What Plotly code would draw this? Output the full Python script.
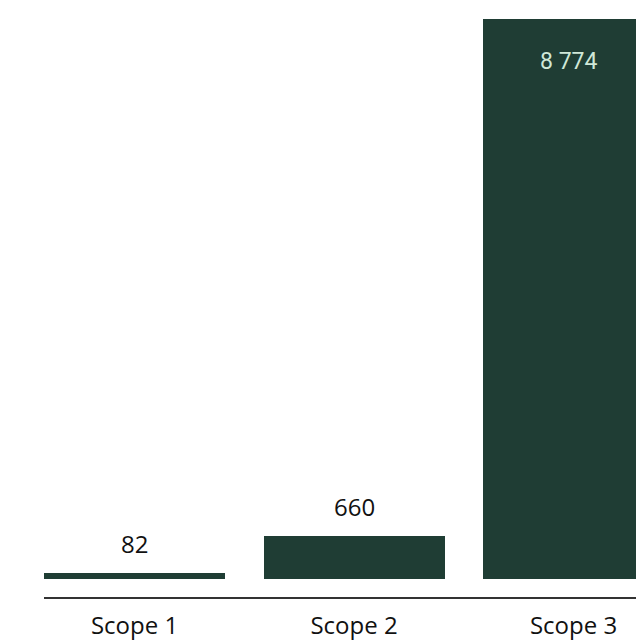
import plotly.graph_objects as go

categories = ["Scope 1", "Scope 2", "Scope 3"]
values = [82, 660, 8774]
label_inside = [False, False, True]

BAR = "#1f3d34"

def fmt(v):
    return f"{v:,}".replace(",", " ")

fig = go.Figure()
fig.add_trace(go.Bar(
    x=list(range(len(categories))),
    y=values,
    width=0.825,
    marker=dict(color=BAR, line=dict(width=0)),
    hoverinfo="skip",
))

annotations = []
for i, (v, inside) in enumerate(zip(values, label_inside)):
    annotations.append(dict(
        x=i, y=v, xref="x", yref="y",
        text=fmt(v), showarrow=False,
        yshift=-42 if inside else 30,
        xshift=-5 if inside else 0,
        font=dict(family="Roboto" if inside else "Open Sans",
                  size=23 if inside else 24,
                  color="#cfe8d8" if inside else "#111111"),
    ))

fig.update_layout(
    width=636, height=641,
    margin=dict(l=44, r=0, t=0, b=44),
    paper_bgcolor="white", plot_bgcolor="white",
    showlegend=False,
    bargap=0,
    annotations=annotations,
    xaxis=dict(
        range=[-0.4125, 2.2845],
        tickmode="array",
        tickvals=list(range(len(categories))),
        ticktext=categories,
        showline=True, linecolor="#333333", linewidth=1.5,
        showgrid=False, zeroline=False,
        automargin=False,
        ticks="outside", ticklen=6, tickcolor="rgba(0,0,0,0)",
        tickfont=dict(family="Open Sans", size=24, color="#111111"),
    ),
    yaxis=dict(
        range=[-290, 9072],
        visible=False,
        showgrid=False, zeroline=False,
        automargin=False,
    ),
)

fig.write_html(
    "out.html",
    config={"displayModeBar": False},
    post_script="document.body.style.margin='0';document.body.style.overflow='hidden';",
)
